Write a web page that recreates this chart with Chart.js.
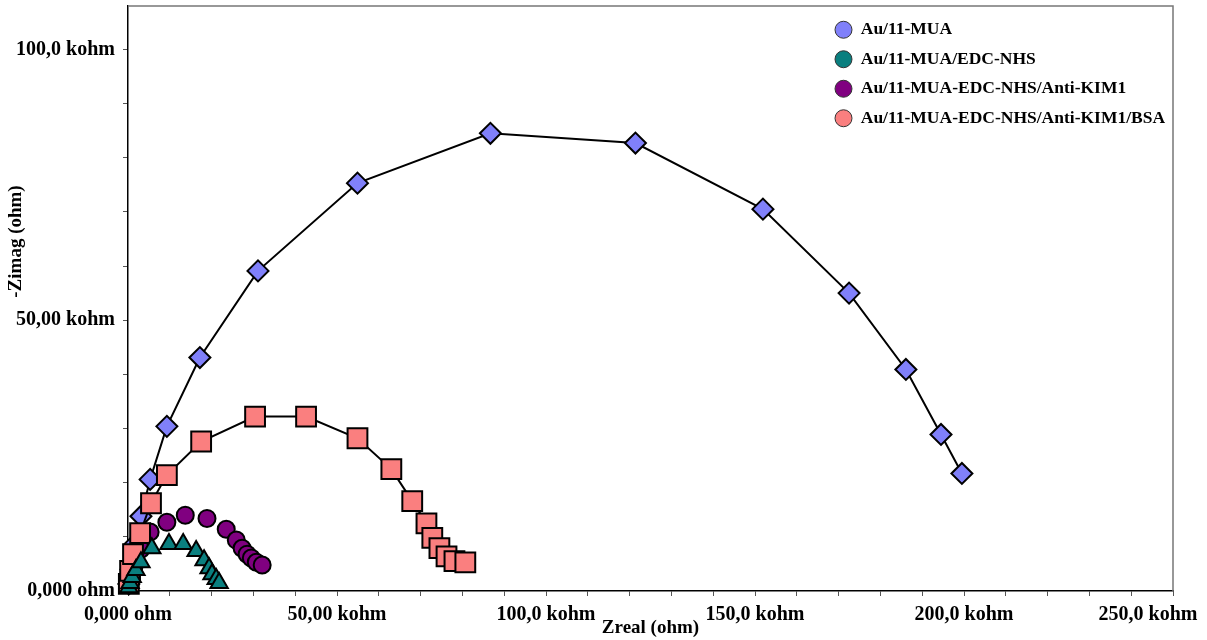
<!DOCTYPE html>
<html>
<head>
<meta charset="utf-8">
<title>Nyquist</title>
<script src="https://cdn.jsdelivr.net/npm/chart.js@4.4.1/dist/chart.umd.min.js"></script>
<style>
  html, body { margin: 0; padding: 0; background: #fff; }
  #wrap { width: 1207px; height: 640px; }
</style>
</head>
<body>
<div id="wrap"><canvas id="nyquist" width="1207" height="640"></canvas></div>
<script>
// Values, everything in kohm
var seriesNames = ["Au/11-MUA", "Au/11-MUA/EDC-NHS", "Au/11-MUA-EDC-NHS/Anti-KIM1", "Au/11-MUA-EDC-NHS/Anti-KIM1/BSA"];

var muaRe = [0.2, 0.7, 1.7, 3.1, 5.3, 9.3, 17.2, 31.1, 54.9, 86.7, 121.4, 151.9, 172.5, 186.1, 194.5, 199.5];
var muaIm = [1.3, 4.0, 8.7, 13.8, 20.6, 30.4, 43.1, 59.1, 75.3, 84.5, 82.7, 70.5, 55.0, 40.9, 28.9, 21.7];

var edcRe = [0.2, 0.5, 1.0, 1.9, 3.1, 5.7, 9.8, 13.2, 16.3, 18.2, 19.4, 20.1, 21.1, 21.8];
var edcIm = [0.7, 1.5, 2.6, 3.9, 5.3, 7.9, 8.7, 8.7, 7.4, 5.7, 4.2, 3.1, 2.2, 1.5];

var kimRe = [0.5, 1.4, 3.1, 5.3, 9.3, 13.7, 18.9, 23.5, 25.9, 27.3, 28.5, 29.5, 30.7, 32.1];
var kimIm = [1.8, 4.4, 7.7, 10.9, 12.7, 14.0, 13.4, 11.4, 9.4, 7.9, 6.8, 6.1, 5.3, 4.8];

var bsaRe = [0.2, 0.5, 1.2, 2.9, 5.5, 9.3, 17.5, 30.4, 42.6, 54.9, 63.0, 68.0, 71.4, 72.8, 74.5, 76.2, 78.1, 80.7];
var bsaIm = [1.3, 3.7, 6.8, 10.7, 16.2, 21.4, 27.6, 32.2, 32.2, 28.2, 22.5, 16.6, 12.5, 9.8, 7.9, 6.4, 5.5, 5.3];

var xTickValues = [0, 50, 100, 150, 200, 250];
var xTickLabels = ["0,000 ohm", "50,00 kohm", "100,0 kohm", "150,0 kohm", "200,0 kohm", "250,0 kohm"];
var yTickValues = [0, 50, 100];
var yTickLabels = ["0,000 ohm", "50,00 kohm", "100,0 kohm"];

function toPoints(xs, ys) {
    var pts = [];
    for (var i = 0; i < xs.length; i++) {
        pts.push({ x: xs[i], y: ys[i] });
    }
    return pts;
}

function tickText(values, labels) {
    return function(value) {
        var idx = values.indexOf(value);
        if (idx < 0) return "";
        // last label is pulled left so it stays inside the page
        if (idx === values.length - 1 && values === xTickValues) {
            return labels[idx] + "\u2002\u2002\u2002\u2002\u2002";
        }
        return labels[idx];
    };
}

var serif = "'Liberation Serif', 'DejaVu Serif', serif";

// top and right edge of the plot box
var frameBox = {
    id: "frameBox",
    beforeDatasetsDraw: function(chart) {
        var a = chart.chartArea;
        var ctx = chart.ctx;
        ctx.save();
        ctx.strokeStyle = "#777";
        ctx.lineWidth = 1.5;
        ctx.beginPath();
        ctx.moveTo(a.left, a.top);
        ctx.lineTo(a.right, a.top);
        ctx.lineTo(a.right, a.bottom);
        ctx.stroke();
        ctx.restore();
    }
};

// legend sits inside the plot, top right
var legendSpot = {
    id: "legendSpot",
    afterLayout: function(chart) {
        var lg = chart.legend;
        lg.left = 823;
        lg.top = 9;
        lg.right = 1200;
        lg.bottom = 600;
    }
};

var ctx = document.getElementById("nyquist").getContext("2d");
var chart = new Chart(ctx, {
    type: "scatter",
    data: {
        datasets: [
            {
                label: seriesNames[0],
                data: toPoints(muaRe, muaIm),
                order: 3,
                showLine: true,
                borderColor: "#000",
                borderWidth: 2,
                backgroundColor: "#8080fa",
                pointStyle: "rectRot",
                pointRadius: 10.5,
                pointBorderColor: "#000",
                pointBorderWidth: 2,
                clip: false
            },
            {
                label: seriesNames[1],
                data: toPoints(edcRe, edcIm),
                order: 0,
                showLine: false,
                backgroundColor: "#0a7f7f",
                pointStyle: "triangle",
                pointRadius: 10,
                pointBorderColor: "#000",
                pointBorderWidth: 2,
                borderWidth: 2,
                borderColor: "#000",
                clip: false
            },
            {
                label: seriesNames[2],
                data: toPoints(kimRe, kimIm),
                order: 2,
                showLine: false,
                backgroundColor: "#800080",
                pointStyle: "circle",
                pointRadius: 8.5,
                pointBorderColor: "#000",
                pointBorderWidth: 2,
                borderWidth: 2,
                borderColor: "#000",
                clip: false
            },
            {
                label: seriesNames[3],
                data: toPoints(bsaRe, bsaIm),
                order: 1,
                showLine: true,
                borderColor: "#000",
                borderWidth: 2,
                backgroundColor: "#fa7f7f",
                pointStyle: "rect",
                pointRadius: 14,
                pointBorderColor: "#000",
                pointBorderWidth: 2,
                clip: false
            }
        ]
    },
    options: {
        responsive: false,
        animation: false,
        // no extra room for the big markers, the plot box goes almost to the top
        layout: { autoPadding: false, padding: { left: 0, right: 34, top: 6, bottom: 0 } },
        scales: {
            x: {
                type: "linear",
                min: 0,
                max: 250,
                afterFit: function(scale) {
                    scale.height = 49;
                    scale.paddingLeft = 0;
                    scale.paddingRight = 0;
                },
                ticks: {
                    stepSize: 10,
                    autoSkip: false,
                    maxRotation: 0,
                    padding: 7,
                    color: "#000",
                    font: { family: serif, size: 20, weight: "bold" },
                    callback: tickText(xTickValues, xTickLabels)
                },
                grid: { drawOnChartArea: false, tickLength: 5, color: "#555" },
                border: { color: "#000", width: 1.5 },
                title: {
                    display: true,
                    text: "Zreal (ohm)",
                    color: "#000",
                    padding: { top: 0, bottom: 1 },
                    font: { family: serif, size: 19, weight: "bold" }
                }
            },
            y: {
                type: "linear",
                min: 0,
                max: 108,
                afterFit: function(scale) {
                    scale.width = 128;
                    scale.paddingTop = 0;
                    scale.paddingBottom = 0;
                },
                afterBuildTicks: function(scale) {
                    scale.ticks = scale.ticks.filter(function(t) { return t.value <= 100; });
                },
                ticks: {
                    stepSize: 10,
                    autoSkip: false,
                    padding: 8,
                    color: "#000",
                    font: { family: serif, size: 20, weight: "bold" },
                    callback: tickText(yTickValues, yTickLabels)
                },
                grid: { drawOnChartArea: false, tickLength: 5, color: "#555" },
                border: { color: "#000", width: 1.5 },
                title: {
                    display: true,
                    // em spaces lift the label above the middle, as in the original
                    text: "\u2003\u2003\u2003\u2003\u2003\u2003-Zimag (ohm)",
                    color: "#000",
                    padding: { top: 5, bottom: 0 },
                    font: { family: serif, size: 19, weight: "bold" }
                }
            }
        },
        plugins: {
            tooltip: { enabled: false },
            legend: {
                position: "chartArea",
                fullSize: false,
                align: "start",
                labels: {
                    usePointStyle: true,
                    boxWidth: 17,
                    boxHeight: 12,
                    padding: 12,
                    color: "#000",
                    font: { family: serif, size: 17.5, weight: "bold" },
                    generateLabels: function(c) {
                        var items = Chart.defaults.plugins.legend.labels.generateLabels(c);
                        items.forEach(function(it) {
                            it.pointStyle = "circle";
                            it.lineWidth = 1;
                            it.strokeStyle = "#333";
                        });
                        items.sort(function(a, b) { return a.datasetIndex - b.datasetIndex; });
                        return items;
                    }
                }
            }
        }
    },
    plugins: [frameBox, legendSpot]
});
</script>
</body>
</html>
